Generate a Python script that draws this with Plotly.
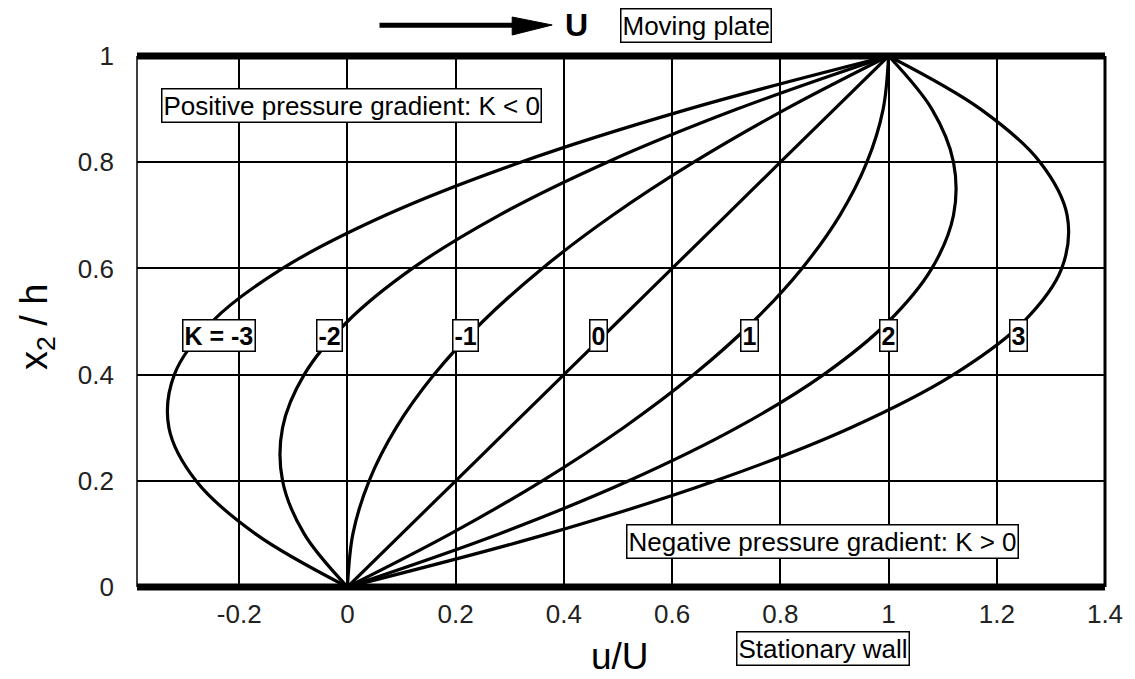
import plotly.graph_objects as go

# ---- data ----
x2_h = [0.0, 0.1, 0.2, 0.3, 0.4, 0.5, 0.6, 0.7, 0.8, 0.9, 1.0]
u_K_m3 = [0.0, -0.17, -0.28, -0.33, -0.32, -0.25, -0.12, 0.07, 0.32, 0.63, 1.0]
u_K_m2 = [0.0, -0.08, -0.12, -0.12, -0.08, 0.00, 0.12, 0.28, 0.48, 0.72, 1.0]
u_K_m1 = [0.0, 0.01, 0.04, 0.09, 0.16, 0.25, 0.36, 0.49, 0.64, 0.81, 1.0]
u_K_0 = [0.0, 0.1, 0.2, 0.3, 0.4, 0.5, 0.6, 0.7, 0.8, 0.9, 1.0]
u_K_p1 = [0.0, 0.19, 0.36, 0.51, 0.64, 0.75, 0.84, 0.91, 0.96, 0.99, 1.0]
u_K_p2 = [0.0, 0.28, 0.52, 0.72, 0.88, 1.00, 1.08, 1.12, 1.12, 1.08, 1.0]
u_K_p3 = [0.0, 0.37, 0.68, 0.93, 1.12, 1.25, 1.32, 1.33, 1.28, 1.17, 1.0]

curves = [u_K_m3, u_K_m2, u_K_m1, u_K_0, u_K_p1, u_K_p2, u_K_p3]
curve_labels = ["K = -3", "-2", "-1", "0", "1", "2", "3"]
label_x = [-0.238, -0.033, 0.218, 0.463, 0.743, 1.0, 1.24]
label_y = 0.473

x_tickvals = [-0.2, 0, 0.2, 0.4, 0.6, 0.8, 1.0, 1.2, 1.4]
x_ticktext = ["-0.2", "0", "0.2", "0.4", "0.6", "0.8", "1", "1.2", "1.4"]
y_tickvals = [0, 0.2, 0.4, 0.6, 0.8, 1.0]
y_ticktext = ["0", "0.2", "0.4", "0.6", "0.8", "1"]

FONT = "Arial, Liberation Sans, sans-serif"

fig = go.Figure()
for u in curves:
    fig.add_trace(go.Scatter(x=u, y=x2_h, mode="lines",
                             line=dict(color="black", width=3.2, shape="spline"),
                             showlegend=False, hoverinfo="skip"))

C = dict(xanchor="center", yanchor="middle", showarrow=False)
BOX = dict(bgcolor="white", bordercolor="black", borderwidth=1.5, borderpad=1)

annotations = []
for t, lx in zip(curve_labels, label_x):
    annotations.append(dict(x=lx, y=label_y, xref="x", yref="y", text="<b>%s</b>" % t,
                            font=dict(family=FONT, size=25, color="black"), **C, **BOX))

box_font = dict(family=FONT, size=26, color="black")
annotations += [
    dict(x=0.007, y=0.906, xref="x", yref="y", text="Positive pressure gradient: K < 0",
         font=box_font, **C, **BOX),
    dict(x=0.877, y=0.0866, xref="x", yref="y", text="Negative pressure gradient: K > 0",
         font=box_font, **C, **BOX),
    dict(x=0.709, y=-0.115, xref="paper", yref="paper", text="Stationary wall",
         font=box_font, **C, **BOX),
    dict(x=0.577, y=1.058, xref="paper", yref="paper", text="Moving plate",
         font=box_font, **C, **BOX),
    dict(x=0.4536, y=1.058, xref="paper", yref="paper", text="<b>U</b>",
         font=dict(family=FONT, size=32, color="black"), **C),
    dict(x=0.499, y=-0.13, xref="paper", yref="paper", text="u/U",
         font=dict(family=FONT, size=37, color="black"), **C),
    dict(x=-0.103, y=0.49, xref="paper", yref="paper", text="x<sub>2</sub> / h",
         textangle=-90, font=dict(family=FONT, size=38, color="black"), **C),
]

shapes = [
    # moving plate and stationary wall
    dict(type="line", xref="paper", yref="paper", x0=0, x1=1, y0=1, y1=1,
         line=dict(color="black", width=7)),
    dict(type="line", xref="paper", yref="paper", x0=0, x1=1, y0=0, y1=0,
         line=dict(color="black", width=7)),
    # frame sides
    dict(type="line", xref="paper", yref="paper", x0=0, x1=0, y0=0, y1=1,
         line=dict(color="black", width=1.5)),
    dict(type="line", xref="paper", yref="paper", x0=1, x1=1, y0=0, y1=1,
         line=dict(color="black", width=3)),
    # arrow
    dict(type="line", xref="paper", yref="paper", x0=0.2505, x1=0.395, y0=1.058, y1=1.058,
         line=dict(color="black", width=5)),
    dict(type="path", xref="paper", yref="paper",
         path="M 0.3876,1.0734 L 0.4289,1.0584 L 0.3876,1.0395 Z",
         fillcolor="black", line=dict(color="black", width=1)),
]

# page body has an 8px default margin; figure sized so its visible part fills the window
fig.update_layout(
    width=1127, height=671,
    margin=dict(l=129, r=28, t=48, b=92),
    paper_bgcolor="white", plot_bgcolor="white",
    font=dict(family=FONT, color="black"),
    annotations=annotations, shapes=shapes,
    xaxis=dict(range=[-0.389, 1.4], tickvals=x_tickvals, ticktext=x_ticktext,
               showgrid=True, gridcolor="black", gridwidth=1.5, zeroline=False,
               showline=False, ticks="", ticklabelstandoff=9,
               tickfont=dict(family=FONT, size=26, color="#222")),
    yaxis=dict(range=[0, 1], tickvals=y_tickvals, ticktext=y_ticktext,
               showgrid=True, gridcolor="black", gridwidth=1.5, zeroline=False,
               showline=False, ticks="", ticklabelstandoff=22,
               tickfont=dict(family=FONT, size=26, color="#222")),
)

fig.write_html("out.html")
